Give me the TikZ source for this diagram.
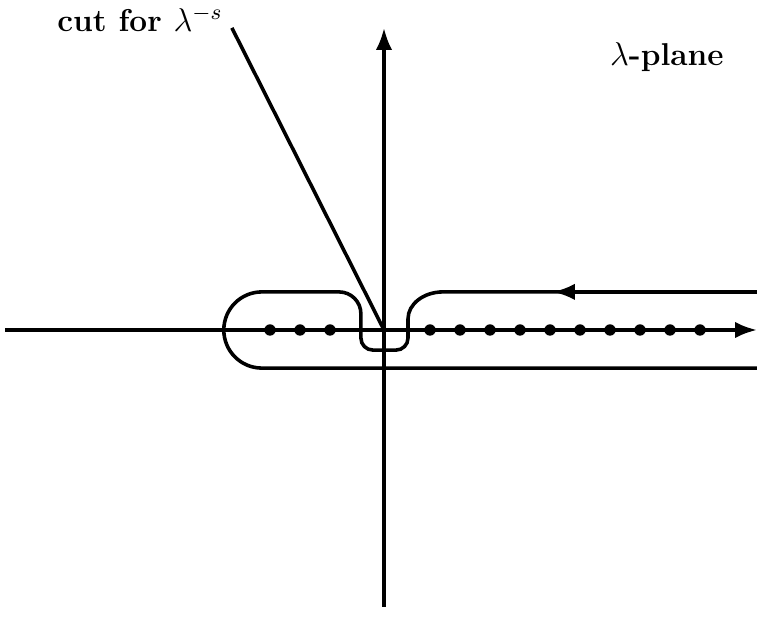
\documentclass[tikz,border=0pt]{standalone}
\usepackage{amsmath, amssymb}
\usetikzlibrary{arrows.meta}

\tikzset{
  vonal/.style={line width=1.3pt},
  hegy/.style={-{Latex[length=8pt,width=6pt]}},
  felirat/.style={font=\fontsize{11.5}{14}\selectfont\bfseries}
}

\begin{document}
\begin{tikzpicture}[scale=0.384]
	\useasboundingbox (-12.8,-10.133) rectangle (12.433,11);

	% tengelyek
	\draw[vonal,hegy] (-12.63,0) -- (12.433,0);
	\draw[vonal,hegy] (0,-9.23) -- (0,10.07);

	% pontok
	\foreach \x in {-3.8,-2.8,-1.8}
		\fill (\x,0) circle (0.19);
	\foreach \k in {0,...,9}
		\fill (1.533+\k,0) circle (0.19);

	% vágás
	\coordinate (O) at (0,0);
	\coordinate (V) at (-5.07,10.07);
	\draw[vonal] (O) -- (V);

	% feliratok
	\node[felirat] (cut) at (-8.13,10.38) {cut for $\lambda^{-s}$};
	\node[felirat] (sik) at (9.43,9.1) {$\lambda$-plane};

	% kontúr
	\draw[vonal] (12.433,1.27) -- (1.97,1.27)
		arc[start angle=90, end angle=180, x radius=1.17, y radius=0.9]
		-- (0.8,-0.27)
		arc[start angle=0, end angle=-90, radius=0.4]
		-- (-0.37,-0.67)
		arc[start angle=270, end angle=180, radius=0.4]
		-- (-0.77,0.54)
		arc[start angle=0, end angle=90, radius=0.73]
		-- (-4.07,1.27)
		arc[start angle=90, end angle=270, radius=1.27]
		-- (12.433,-1.27);
	\draw[vonal,hegy] (12.433,1.27) -- (5.63,1.27);
\end{tikzpicture}
\end{document}
